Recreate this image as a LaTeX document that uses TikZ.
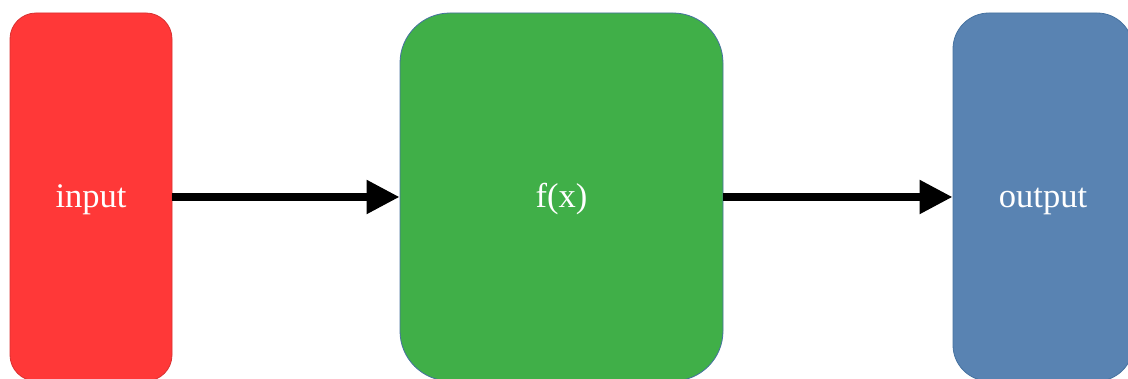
\documentclass[tikz,border=0pt]{standalone}
\usepackage{fontspec}
\setmainfont{Liberation Serif}
\usetikzlibrary{arrows.meta}
\definecolor{boxred}{RGB}{255,56,56}
\definecolor{boxgreen}{RGB}{64,175,72}
\definecolor{boxblue}{RGB}{89,131,178}
\definecolor{edgeblue}{RGB}{70,114,160}
% place the label's baseline a fixed distance below the box centre
\newcommand{\boxtext}[1]{\raisebox{-11pt}[0pt][0pt]{#1}}
\begin{document}
\begin{tikzpicture}[x=1pt,y=1pt,
  block/.style={draw, line width=0.8pt, text=white, inner sep=0pt,
    font=\fontsize{34.5}{40}\selectfont, minimum height=368pt},
  flow/.style={line width=8pt, -{Triangle[length=33pt,width=32pt]}}]
\useasboundingbox (0,0) rectangle (1128,379);
\node[block, fill=boxred, draw=boxred!85!black, rounded corners=26pt,
  minimum width=162pt] (in) at (91,182) {\boxtext{input}};
\node[block, fill=boxgreen, draw=edgeblue, rounded corners=50pt,
  minimum width=323pt] (f) at (561.5,182) {\boxtext{f(x)}};
\node[block, fill=boxblue, draw=edgeblue, rounded corners=36pt,
  minimum width=180pt] (out) at (1043,182) {\boxtext{output}};
\draw[flow] (in.east) -- (f.west);
\draw[flow] (f.east) -- (out.west);
\end{tikzpicture}
\end{document}
